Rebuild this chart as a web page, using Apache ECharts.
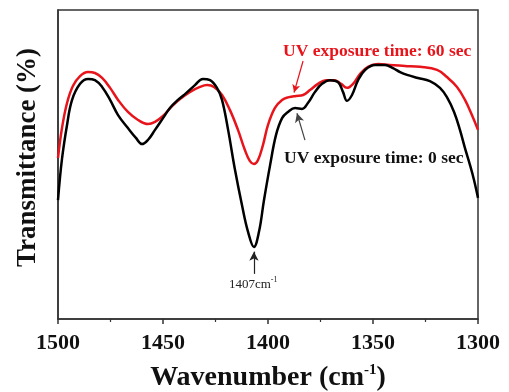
<!DOCTYPE html>
<html>
<head>
<meta charset="utf-8">
<script src="https://cdn.jsdelivr.net/npm/echarts@6/dist/echarts.min.js"></script>
<style>
html,body{margin:0;padding:0;background:#fff;}
#chart{width:509px;height:392px;}
</style>
</head>
<body>
<div id="chart"></div>
<script>
// Wavenumber (cm-1) and transmittance (arbitrary %)
const wave0 = [1500,1498.1,1495.7,1493.3,1489.5,1485.7,1482.4,1479.0,1475.2,1471.4,1466.7,1462.9,1460.0,1457.1,1453.8,1450.0,1446.7,1442.9,1439.0,1434.8,1431.0,1427.6,1424.3,1421.9,1419.0,1415.7,1412.4,1409.5,1406.7,1404.3,1401.9,1399.0,1396.2,1393.3,1390.5,1387.1,1383.8,1381.0,1377.6,1374.3,1370.5,1366.7,1364.3,1362.4,1360.0,1357.1,1353.8,1349.0,1344.3,1340.5,1337.1,1333.8,1328.6,1322.9,1318.1,1314.8,1311.4,1308.6,1306.2,1303.8,1301.9,1300];
const trans0 = [38.5,51.8,62.8,70.9,76.1,77.7,77.3,75.1,70.9,66.0,61.8,58.6,56.6,58.0,61.2,65.0,68.3,70.9,73.1,75.7,77.7,77.3,74.8,70.9,61.2,48.2,36.9,28.2,23.3,28.2,38.5,49.8,59.5,65.0,67.0,68.3,68.0,69.9,73.5,76.1,77.3,76.7,73.5,70.6,72.5,77.3,80.6,82.2,82.2,81.2,79.9,79.0,78.0,77.0,74.8,71.8,67.0,61.2,55.3,49.8,45.0,39.2];

const wave60 = [1500,1498.1,1495.7,1492.9,1489.5,1485.7,1482.4,1479.0,1475.2,1471.4,1466.7,1461.9,1457.1,1453.8,1450.0,1445.7,1441.9,1437.1,1432.4,1429.0,1425.7,1421.9,1418.1,1414.3,1411.0,1408.6,1406.7,1404.8,1402.4,1400.0,1396.7,1393.3,1390.0,1386.7,1383.3,1380.0,1376.2,1372.4,1368.6,1365.2,1362.4,1359.5,1356.2,1352.4,1347.6,1342.1,1334.8,1327.6,1319.5,1314.8,1310.0,1306.2,1302.9,1300];
const trans60 = [52.1,61.8,69.9,75.4,78.6,79.9,79.6,78.0,74.8,70.9,67.0,64.4,63.1,63.8,65.7,68.9,71.2,73.5,75.1,75.7,75.1,72.5,67.6,61.2,54.7,51.1,50.2,51.4,56.3,62.8,68.3,70.9,71.8,72.2,72.5,74.1,76.1,77.3,77.3,76.1,74.8,76.1,79.3,81.6,82.5,82.2,81.9,81.6,80.6,78.3,75.1,70.9,66.0,61.2];

const xTicks = [1500,1450,1400,1350,1300];
const label0 = 'UV exposure time: 0 sec';
const label60 = 'UV exposure time: 60 sec';
const peakLabel = '1407';
const peakWave = 1406.7;

const serif = '"Liberation Serif","Times New Roman",serif';
const zip = (a,b) => a.map((v,i)=>[v,b[i]]);

const chart = echarts.init(document.getElementById('chart'), null, {renderer:'canvas'});

const arrowStyle = (c) => ({color:c, width:1.2, type:'solid'});

chart.setOption({
  animation:false,
  backgroundColor:'#fff',
  grid:{left:58,right:31,top:10,bottom:73,show:true,borderColor:'#333',borderWidth:1.5,backgroundColor:'transparent',
        containLabel:false, outerBoundsMode:'none'},
  xAxis:{
    type:'value', inverse:true, min:1300, max:1500, interval:50,
    axisLine:{show:true,lineStyle:{color:'#333',width:1.5}},
    axisTick:{show:true,inside:false,length:5,lineStyle:{color:'#333',width:1.5}},
    minorTick:{show:true,splitNumber:2,length:3,lineStyle:{color:'#333',width:1.2}},
    splitLine:{show:false},
    axisLabel:{color:'#111',fontFamily:serif,fontWeight:'bold',fontSize:22,margin:13,
      formatter:(v)=> xTicks.includes(v)? String(v):''},
    name:'{a|Wavenumber (cm}{s|-1}{a|)}',
    nameLocation:'middle', nameGap:44,
    nameTextStyle:{rich:{
      a:{fontFamily:serif,fontWeight:'bold',fontSize:28,color:'#111'},
      s:{fontFamily:serif,fontWeight:'bold',fontSize:15,color:'#111',verticalAlign:'top',padding:[0,0,14,0]}
    }}
  },
  yAxis:{
    type:'value', min:0, max:100,
    axisLine:{show:true,lineStyle:{color:'#333',width:1.5}},
    axisTick:{show:false}, axisLabel:{show:false}, splitLine:{show:false},
    name:'Transmittance (%)', nameLocation:'middle', nameGap:16, nameRotate:90,
    nameTextStyle:{fontFamily:serif,fontWeight:'bold',fontSize:27,color:'#111',padding:[0,0,0,14]}
  },
  series:[
    {
      name:label0, type:'line', data:zip(wave0,trans0), smooth:0.4, showSymbol:false, z:3,
      lineStyle:{color:'#000',width:2.5},
      markLine:{
        silent:true, symbol:['none','arrow'], symbolSize:[7,9],
        label:{show:false},
        data:[
          [{coord:[peakWave,14.6],lineStyle:arrowStyle('#222')},{coord:[peakWave,21.8]}],
          [{coord:[1382.4,57.9],lineStyle:arrowStyle('#444')},{coord:[1386.2,66.6]}]
        ]
      }
    },
    {
      name:label60, type:'line', data:zip(wave60,trans60), smooth:0.4, showSymbol:false, z:2,
      lineStyle:{color:'#e8141b',width:2.5},
      markLine:{
        silent:true, symbol:['none','arrow'], symbolSize:[6,8],
        label:{show:false},
        data:[
          [{coord:[1383.3,83.5],lineStyle:arrowStyle('#e8141b')},{coord:[1387.6,73.3]}]
        ]
      }
    }
  ]
});

// text annotations positioned from data coordinates
const p60 = chart.convertToPixel({gridIndex:0},[1387.6,86.1]);
const p0 = chart.convertToPixel({gridIndex:0},[1387.6,51.5]);
const pk = chart.convertToPixel({gridIndex:0},[peakWave,13.8]);
chart.setOption({
  graphic:[
    {type:'text',left:p60[0]-11,top:p60[1]-10,silent:true,
      style:{text:label60,fill:'#e8141b',font:'bold 17.5px '+serif}},
    {type:'text',left:p0[0]-10,top:p0[1]-10,silent:true,
      style:{text:label0,fill:'#111',font:'bold 17.5px '+serif}},
    {type:'text',x:pk[0]-25,y:pk[1],silent:true,
      style:{text:'{a|'+peakLabel+'cm}{s|-1}',fill:'#222',
        rich:{a:{fontFamily:serif,fontSize:13,fill:'#222'},
              s:{fontFamily:serif,fontSize:8,fill:'#222',verticalAlign:'top',padding:[0,0,8,0]}}}}
  ]
});
</script>
</body>
</html>
